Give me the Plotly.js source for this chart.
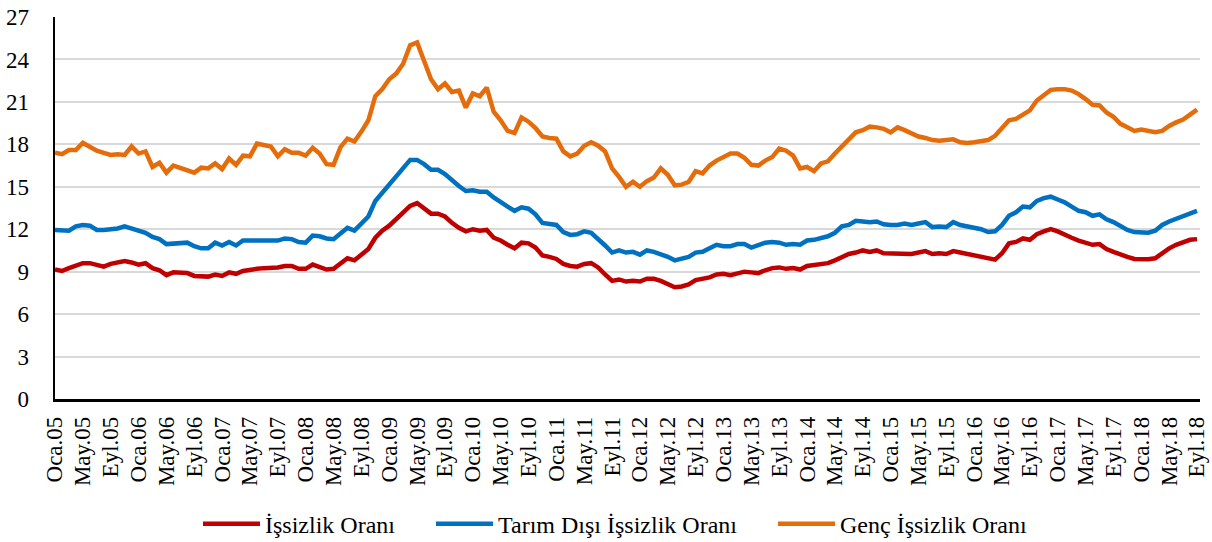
<!DOCTYPE html>
<html>
<head>
<meta charset="utf-8">
<script src="https://cdn.plot.ly/plotly-3.0.1.min.js"></script>
<style>
  html, body { margin: 0; padding: 0; background: #fff; }
  #chart { width: 1212px; height: 542px; }
</style>
</head>
<body>
<div id="chart"></div>
<script>
// month labels Oca.05 ... Eyl.18
const monthNames = ['Oca', 'Şub', 'Mar', 'Nis', 'May', 'Haz', 'Tem', 'Ağu', 'Eyl', 'Eki', 'Kas', 'Ara'];
const years = ['05', '06', '07', '08', '09', '10', '11', '12', '13', '14', '15', '16', '17', '18'];
const lastLabel = 'Eyl.18';

const months = [];
outer:
for (const y of years) {
    for (const m of monthNames) {
        months.push(m + '.' + y);
        if (m + '.' + y === lastLabel) break outer;
    }
}
// every 4th month is labelled (Oca, May, Eyl)
const tickLabels = months.filter((_, i) => i % 4 === 0);

// İşsizlik Oranı
const issizlik = [
    9.15, 9.05, 9.25, 9.45, 9.6, 9.6, 9.45, 9.35, 9.55, 9.65, 9.75, 9.65,
    9.5, 9.6, 9.25, 9.1, 8.75, 8.95, 8.95, 8.9, 8.7, 8.65, 8.65, 8.8,
    8.7, 8.95, 8.85, 9.05, 9.15, 9.2, 9.25, 9.25, 9.3, 9.4, 9.4, 9.2,
    9.2, 9.5, 9.3, 9.15, 9.2, 9.6, 9.95, 9.8, 10.2, 10.6, 11.4, 11.9,
    12.25, 12.75, 13.15, 13.65, 13.85, 13.5, 13.1, 13.1, 12.9, 12.45, 12.1, 11.85,
    12.0, 11.9, 11.95, 11.4, 11.2, 10.9, 10.65, 11.05, 11.0, 10.7, 10.15, 10.05,
    9.9, 9.55, 9.4, 9.35, 9.55, 9.6, 9.3, 8.8, 8.35, 8.45, 8.3, 8.35,
    8.3, 8.5, 8.5, 8.35, 8.1, 7.9, 7.95, 8.1, 8.4, 8.5, 8.6, 8.8,
    8.85, 8.75, 8.85, 9.0, 8.95, 8.9, 9.1, 9.25, 9.3, 9.2, 9.25, 9.15,
    9.4, 9.45, 9.5, 9.6, 9.8, 10.05, 10.25, 10.35, 10.5, 10.4, 10.5, 10.3,
    10.3, 10.3, 10.25, 10.25, 10.35, 10.45, 10.25, 10.3, 10.25, 10.45, 10.35, 10.25,
    10.15, 10.05, 9.9, 9.85, 10.3, 11.0, 11.1, 11.35, 11.25, 11.65, 11.85, 12.0,
    11.85, 11.6, 11.4, 11.2, 11.05, 10.9, 10.95, 10.6, 10.4, 10.2, 10.05, 9.9,
    9.88, 9.88, 9.95, 10.35, 10.65, 10.9, 11.1, 11.25, 11.3
];

// Tarım Dışı İşsizlik Oranı
const tarimDisi = [
    11.95, 11.9, 11.9, 12.2, 12.3, 12.25, 11.95, 11.95, 12.0, 12.05, 12.2, 12.05,
    11.9, 11.75, 11.45, 11.3, 10.95, 11.0, 11.0, 11.05, 10.8, 10.65, 10.65, 11.05,
    10.85, 11.1, 10.85, 11.2, 11.2, 11.2, 11.2, 11.2, 11.2, 11.35, 11.3, 11.1,
    11.05, 11.55, 11.5, 11.35, 11.3, 11.7, 12.1, 11.9, 12.4, 12.9, 14.0, 14.6,
    15.2, 15.8, 16.35, 16.9, 16.9, 16.6, 16.2, 16.2, 15.9, 15.45, 15.05, 14.7,
    14.75, 14.65, 14.65, 14.25, 13.9, 13.6, 13.3, 13.55, 13.45, 13.05, 12.45, 12.35,
    12.3, 11.8, 11.6, 11.65, 11.85, 11.75, 11.35, 10.85, 10.35, 10.5, 10.35, 10.4,
    10.2, 10.5, 10.4, 10.25, 10.05, 9.8, 9.95, 10.05, 10.35, 10.4, 10.65, 10.9,
    10.8, 10.8, 10.95, 10.95, 10.7, 10.85, 11.05, 11.1, 11.05, 10.9, 10.95, 10.9,
    11.2, 11.25, 11.35, 11.5, 11.75, 12.2, 12.3, 12.6, 12.55, 12.5, 12.55, 12.35,
    12.3, 12.3, 12.4, 12.3, 12.4, 12.5, 12.15, 12.2, 12.15, 12.5, 12.3, 12.2,
    12.1, 12.0, 11.8, 11.85, 12.3, 12.95, 13.2, 13.6, 13.55, 14.0, 14.2, 14.3,
    14.1, 13.9, 13.6, 13.3, 13.2, 12.95, 13.05, 12.7, 12.5, 12.2, 11.95, 11.8,
    11.75, 11.75, 11.9, 12.3, 12.55, 12.75, 12.95, 13.1, 13.3
];

// Genç İşsizlik Oranı
const genc = [
    17.4, 17.3, 17.6, 17.6, 18.1, 17.85, 17.55, 17.4, 17.25, 17.3, 17.25, 17.85,
    17.35, 17.5, 16.4, 16.7, 16.0, 16.5, 16.35, 16.2, 16.0, 16.35, 16.3, 16.65,
    16.25, 17.0, 16.55, 17.2, 17.15, 18.05, 17.95, 17.85, 17.15, 17.65, 17.4, 17.4,
    17.2, 17.75, 17.35, 16.6, 16.55, 17.8, 18.4, 18.2, 18.9, 19.7, 21.4, 21.9,
    22.6, 23.0, 23.7, 25.0, 25.2, 23.8, 22.6, 21.9, 22.3, 21.7, 21.8, 20.6,
    21.6, 21.4, 22.0, 20.3, 19.7, 18.95, 18.8, 19.9, 19.6, 19.15, 18.55, 18.45,
    18.4, 17.5, 17.15, 17.35, 17.9, 18.15, 17.9, 17.5, 16.3, 15.7, 15.0, 15.35,
    15.0, 15.4, 15.65, 16.3, 15.85, 15.1, 15.15, 15.35, 16.1, 15.95, 16.5, 16.85,
    17.1, 17.35, 17.35, 17.05, 16.55, 16.5, 16.85, 17.1, 17.7, 17.55, 17.2, 16.3,
    16.4, 16.1, 16.65, 16.8, 17.35, 17.85, 18.45, 18.85, 19.0, 19.25, 19.2, 19.1,
    18.85, 19.2, 19.0, 18.75, 18.55, 18.45, 18.3, 18.25, 18.3, 18.35, 18.15, 18.1,
    18.15, 18.25, 18.3, 18.6, 19.2, 19.7, 19.8, 20.1, 20.4, 21.1, 21.5, 21.85,
    21.9, 21.9, 21.8, 21.55, 21.2, 20.8, 20.75, 20.25, 19.95, 19.45, 19.2, 18.95,
    19.05, 18.95, 18.85, 18.95, 19.3, 19.55, 19.75, 20.1, 20.45
];

const seriesNames = ['İşsizlik Oranı', 'Tarım Dışı İşsizlik Oranı', 'Genç İşsizlik Oranı'];
const seriesColors = ['#C00000', '#0070C0', '#E46C0A'];
const seriesValues = [issizlik, tarimDisi, genc];
const legendIds = ['legend', 'legend2', 'legend3'];

const fontFamily = 'Liberation Serif';

const data = seriesValues.map((vals, k) => ({
    x: months,
    y: vals,
    type: 'scatter',
    mode: 'lines',
    name: seriesNames[k],
    legend: legendIds[k],
    line: { color: seriesColors[k], width: 4.5 },
    hoverinfo: 'x+y+name'
}));

// each legend entry placed on its own, like the original
function legendAt(xPx) {
    return {
        orientation: 'h',
        xref: 'container',
        x: xPx / 1212,
        xanchor: 'left',
        yref: 'container',
        y: 0.033,
        yanchor: 'middle',
        itemwidth: 57,
        bgcolor: 'rgba(0,0,0,0)',
        font: { family: fontFamily, size: 24, color: '#000000' }
    };
}

const layout = {
    width: 1212,
    height: 542,
    margin: { l: 55, r: 12, t: 17, b: 143 },
    paper_bgcolor: '#ffffff',
    plot_bgcolor: '#ffffff',
    font: { family: fontFamily, size: 23, color: '#000000' },
    showlegend: true,
    legend: legendAt(198),
    legend2: legendAt(431),
    legend3: legendAt(773),
    xaxis: {
        type: 'category',
        range: [0, 164.43],
        tickmode: 'array',
        tickvals: tickLabels,
        ticktext: tickLabels,
        tickangle: -90,
        ticks: '',
        ticklabelstandoff: 6,
        showgrid: false,
        zeroline: false,
        showline: true,
        linecolor: '#000000',
        linewidth: 2.5,
        tickfont: { family: fontFamily, size: 23 }
    },
    yaxis: {
        range: [0, 27],
        dtick: 3,
        tick0: 0,
        ticks: '',
        ticklabelstandoff: 19,
        showgrid: true,
        gridcolor: '#D9D9D9',
        gridwidth: 2,
        zeroline: false,
        showline: true,
        linecolor: '#000000',
        linewidth: 2.5,
        tickfont: { family: fontFamily, size: 23 }
    }
};

Plotly.newPlot('chart', data, layout, { displayModeBar: false, staticPlot: true });
</script>
</body>
</html>
